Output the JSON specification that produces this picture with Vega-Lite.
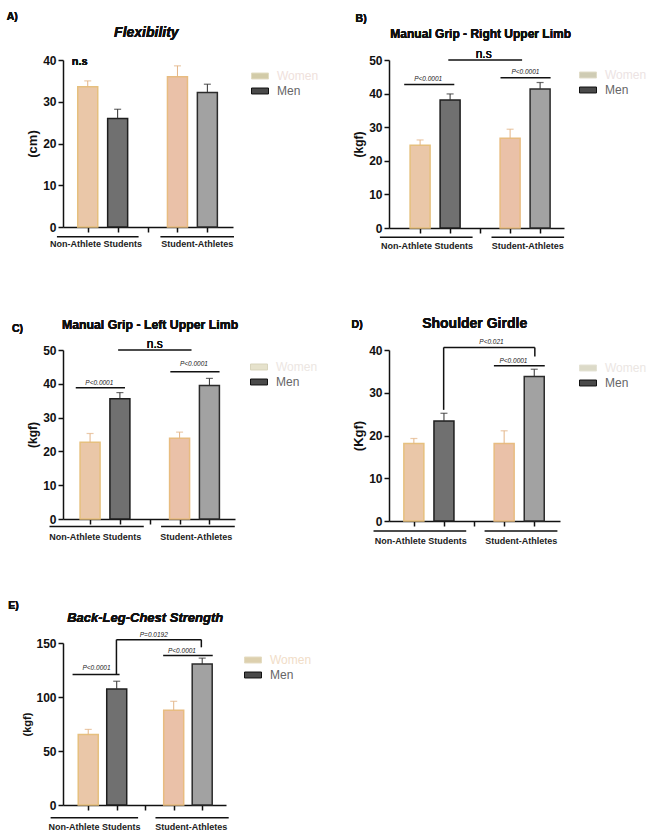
{
  "$schema": "https://vega.github.io/schema/vega-lite/v6.json",
  "padding": {"left": 6, "top": 11, "right": 0, "bottom": 0},
  "background": "white",
  "columns": 2,
  "bounds": "flush",
  "spacing": {"column": 154, "row": 122},
  "resolve": {"scale": {"x": "independent", "y": "independent", "fill": "independent"}, "legend": {"fill": "independent"}},
  "config": {
    "view": {"stroke": null},
    "text": {"font": "Liberation Sans"},
    "axis": {"domainColor": "#111", "domainWidth": 1.5, "tickColor": "#111", "tickWidth": 1.5, "tickSize": 5, "grid": false, "tickCount": 20,
      "labelFont": "Liberation Sans", "labelFontWeight": "bold", "labelFontSize": 12, "labelColor": "#111", "labelPadding": 2, "labelFlush": false, "labelOverlap": false,
      "titleFont": "Liberation Sans", "titleFontWeight": "bold", "titleFontSize": 12, "titleColor": "#111", "titlePadding": 3},
    "legend": {"labelFont": "Liberation Sans", "labelFontSize": 12, "labelOffset": 8, "rowPadding": -1, "symbolSize": 289, "symbolStrokeWidth": 1,
      "symbolType": "M-1,-0.35H1V0.35H-1Z"}
  },
  "concat": [
    {
      "width": 170, "height": 167,
      "data": {"values": [
        {"group": "Non-Athlete Students", "sex": "Women", "key": "Women NA", "pos": 1, "mean": 33.6, "err": 35.0},
        {"group": "Non-Athlete Students", "sex": "Men", "key": "Men NA", "pos": 2, "mean": 26.0, "err": 28.2},
        {"group": "Student-Athletes", "sex": "Women", "key": "Women SA", "pos": 4, "mean": 36.0, "err": 38.6},
        {"group": "Student-Athletes", "sex": "Men", "key": "Men SA", "pos": 5, "mean": 32.2, "err": 34.2}
      ]},
      "layer": [
        {"mark": {"type": "bar", "size": 20, "strokeWidth": 1.5},
         "encoding": {
          "x": {"field": "pos", "type": "quantitative", "scale": {"domain": [0.34, 5.69], "nice": false, "zero": false}, "axis": {"values": [1, 2, 3, 4, 5], "tickCount": 20, "labels": false, "title": null}},
          "y": {"field": "mean", "type": "quantitative", "scale": {"domain": [0, 40], "nice": false}, "axis": {"values": [0, 10, 20, 30, 40], "tickCount": 20, "labelOverlap": false, "title": "(cm)", "titleFontSize": 13}},
          "fill": {"field": "key", "type": "nominal", "scale": {"domain": ["Women", "Men", "Women NA", "Men NA", "Women SA", "Men SA"], "range": ["#d2cba8", "#4a4a4a", "#eac7a8", "#707070", "#eac1a8", "#a2a2a2"]},
            "legend": {"title": null, "orient": "none", "legendX": 188, "legendY": 7, "values": ["Women", "Men"],
              "encode": {"labels": {"update": {"fill": {"signal": "datum.value === 'Women' ? '#efe1dc' : '#666666'"}}},
                         "symbols": {"update": {"stroke": {"signal": "datum.value === 'Women' ? '#e2dcc2' : '#111111'"}}}}}},
          "stroke": {"field": "key", "type": "nominal", "scale": {"domain": ["Women NA", "Men NA", "Women SA", "Men SA"], "range": ["#e6c07e", "#1e1e1e", "#e8bc80", "#2b2b2b"]}, "legend": null}
         }},
        {"mark": {"type": "rule", "strokeWidth": 1},
         "encoding": {"x": {"field": "pos", "type": "quantitative"}, "y": {"field": "mean", "type": "quantitative"}, "y2": {"field": "err"},
          "color": {"field": "sex", "type": "nominal", "scale": {"domain": ["Women", "Men"], "range": ["#e3b486", "#2e2e2e"]}, "legend": null}}},
        {"mark": {"type": "tick", "orient": "horizontal", "size": 7, "thickness": 1.2},
         "encoding": {"x": {"field": "pos", "type": "quantitative"}, "y": {"field": "err", "type": "quantitative"},
          "color": {"field": "sex", "type": "nominal", "scale": {"domain": ["Women", "Men"], "range": ["#e3b486", "#2e2e2e"]}, "legend": null}}},
        {"mark": {"type": "text", "fontSize": 11, "fontWeight": "bold", "baseline": "middle", "color": "#111"},
         "encoding": {"x": {"datum": 0.73, "type": "quantitative"}, "y": {"datum": 39.5, "type": "quantitative"}, "text": {"value": "n.s"}}},
        {"data": {"values": [{"group": "Non-Athlete Students", "x1": -0.03, "x2": 2.70, "y": -2.35}, {"group": "Student-Athletes", "x1": 3.43, "x2": 5.89, "y": -2.35}]},
         "mark": {"type": "rule", "strokeWidth": 1.5, "color": "#111"},
         "encoding": {"x": {"field": "x1", "type": "quantitative"}, "x2": {"field": "x2"}, "y": {"field": "y", "type": "quantitative"}}},
        {"data": {"values": [{"label": "Non-Athlete Students", "x": 1.28, "y": -4.14}, {"label": "Student-Athletes", "x": 4.66, "y": -4.14}]},
         "mark": {"type": "text", "fontSize": 9, "fontWeight": "bold", "baseline": "middle", "color": "#222"},
         "encoding": {"x": {"field": "x", "type": "quantitative"}, "y": {"field": "y", "type": "quantitative"}, "text": {"field": "label"}}},
        {"mark": {"type": "text", "fontSize": 14, "fontWeight": "bold", "fontStyle": "italic", "baseline": "alphabetic", "color": "#111"},
         "encoding": {"x": {"datum": 2.96, "type": "quantitative"}, "y": {"datum": 45.5, "type": "quantitative"}, "text": {"value": "Flexibility"}}},
        {"mark": {"type": "text", "fontSize": 10.5, "fontWeight": "bold", "align": "left", "baseline": "alphabetic", "color": "#111"},
         "encoding": {"x": {"datum": -1.71, "type": "quantitative"}, "y": {"datum": 49.7, "type": "quantitative"}, "text": {"value": "A)"}}}
      ]
    },
    {
      "width": 175, "height": 168,
      "data": {"values": [
        {"group": "Non-Athlete Students", "sex": "Women", "key": "Women NA", "pos": 1, "mean": 24.6, "err": 26.2},
        {"group": "Non-Athlete Students", "sex": "Men", "key": "Men NA", "pos": 2, "mean": 38.1, "err": 39.9},
        {"group": "Student-Athletes", "sex": "Women", "key": "Women SA", "pos": 4, "mean": 26.7, "err": 29.4},
        {"group": "Student-Athletes", "sex": "Men", "key": "Men SA", "pos": 5, "mean": 41.4, "err": 43.3}
      ]},
      "layer": [
        {"mark": {"type": "bar", "size": 20, "strokeWidth": 1.5},
         "encoding": {
          "x": {"field": "pos", "type": "quantitative", "scale": {"domain": [0.13, 5.63], "nice": false, "zero": false}, "axis": {"values": [1, 2, 3, 4, 5], "tickCount": 20, "labels": false, "title": null}},
          "y": {"field": "mean", "type": "quantitative", "scale": {"domain": [0, 50], "nice": false}, "axis": {"values": [0, 10, 20, 30, 40, 50], "tickCount": 20, "labelOverlap": false, "title": "(kgf)"}},
          "fill": {"field": "key", "type": "nominal", "scale": {"domain": ["Women", "Men", "Women NA", "Men NA", "Women SA", "Men SA"], "range": ["#cfccb4", "#4a4a4a", "#eac7a8", "#707070", "#eac1a8", "#a2a2a2"]},
            "legend": {"title": null, "orient": "none", "legendX": 190, "legendY": 6, "values": ["Women", "Men"],
              "encode": {"labels": {"update": {"fill": {"signal": "datum.value === 'Women' ? '#ece3e3' : '#666666'"}}},
                         "symbols": {"update": {"stroke": {"signal": "datum.value === 'Women' ? '#e0dcc8' : '#111111'"}}}}}},
          "stroke": {"field": "key", "type": "nominal", "scale": {"domain": ["Women NA", "Men NA", "Women SA", "Men SA"], "range": ["#e6c07e", "#1e1e1e", "#e8bc80", "#2b2b2b"]}, "legend": null}
         }},
        {"mark": {"type": "rule", "strokeWidth": 1},
         "encoding": {"x": {"field": "pos", "type": "quantitative"}, "y": {"field": "mean", "type": "quantitative"}, "y2": {"field": "err"},
          "color": {"field": "sex", "type": "nominal", "scale": {"domain": ["Women", "Men"], "range": ["#e3b486", "#2e2e2e"]}, "legend": null}}},
        {"mark": {"type": "tick", "orient": "horizontal", "size": 7, "thickness": 1.2},
         "encoding": {"x": {"field": "pos", "type": "quantitative"}, "y": {"field": "err", "type": "quantitative"},
          "color": {"field": "sex", "type": "nominal", "scale": {"domain": ["Women", "Men"], "range": ["#e3b486", "#2e2e2e"]}, "legend": null}}},
        {"data": {"values": [{"comparison": "NA women vs men", "x1": 0.47, "x2": 2.14, "y": 42.7}, {"comparison": "NA vs SA men", "x1": 1.94, "x2": 4.40, "y": 50.0}, {"comparison": "SA women vs men", "x1": 3.68, "x2": 5.35, "y": 44.75}]},
         "mark": {"type": "rule", "strokeWidth": 1.5, "color": "#111"},
         "encoding": {"x": {"field": "x1", "type": "quantitative"}, "x2": {"field": "x2"}, "y": {"field": "y", "type": "quantitative"}}},
        {"data": {"values": [{"label": "P<0.0001", "x": 1.27, "y": 44.4}, {"label": "P<0.0001", "x": 4.51, "y": 46.4}]},
         "mark": {"type": "text", "fontSize": 6.5, "fontStyle": "italic", "baseline": "middle", "color": "#222"},
         "encoding": {"x": {"field": "x", "type": "quantitative"}, "y": {"field": "y", "type": "quantitative"}, "text": {"field": "label"}}},
        {"mark": {"type": "text", "fontSize": 12, "baseline": "middle", "color": "#111"},
         "encoding": {"x": {"datum": 3.12, "type": "quantitative"}, "y": {"datum": 51.7, "type": "quantitative"}, "text": {"value": "n.s"}}},
        {"data": {"values": [{"group": "Non-Athlete Students", "x1": -0.34, "x2": 2.75, "y": -2.76}, {"group": "Student-Athletes", "x1": 3.38, "x2": 5.80, "y": -2.76}]},
         "mark": {"type": "rule", "strokeWidth": 1.5, "color": "#111"},
         "encoding": {"x": {"field": "x1", "type": "quantitative"}, "x2": {"field": "x2"}, "y": {"field": "y", "type": "quantitative"}}},
        {"data": {"values": [{"label": "Non-Athlete Students", "x": 1.23, "y": -5.4}, {"label": "Student-Athletes", "x": 4.59, "y": -5.4}]},
         "mark": {"type": "text", "fontSize": 9, "fontWeight": "bold", "baseline": "middle", "color": "#222"},
         "encoding": {"x": {"field": "x", "type": "quantitative"}, "y": {"field": "y", "type": "quantitative"}, "text": {"field": "label"}}},
        {"mark": {"type": "text", "fontSize": 12, "fontWeight": "bold", "baseline": "alphabetic", "color": "#111"},
         "encoding": {"x": {"datum": 3.02, "type": "quantitative"}, "y": {"datum": 56.6, "type": "quantitative"}, "text": {"value": "Manual Grip - Right Upper Limb"}}},
        {"mark": {"type": "text", "fontSize": 10.5, "fontWeight": "bold", "align": "left", "baseline": "alphabetic", "color": "#111"},
         "encoding": {"x": {"datum": -1.15, "type": "quantitative"}, "y": {"datum": 61.4, "type": "quantitative"}, "text": {"value": "B)"}}}
      ]
    },
    {
      "width": 172, "height": 169,
      "data": {"values": [
        {"group": "Non-Athlete Students", "sex": "Women", "key": "Women NA", "pos": 1, "mean": 22.7, "err": 25.3},
        {"group": "Non-Athlete Students", "sex": "Men", "key": "Men NA", "pos": 2, "mean": 35.6, "err": 37.4},
        {"group": "Student-Athletes", "sex": "Women", "key": "Women SA", "pos": 4, "mean": 23.9, "err": 25.7},
        {"group": "Student-Athletes", "sex": "Men", "key": "Men SA", "pos": 5, "mean": 39.5, "err": 41.6}
      ]},
      "layer": [
        {"mark": {"type": "bar", "size": 20, "strokeWidth": 1.5},
         "encoding": {
          "x": {"field": "pos", "type": "quantitative", "scale": {"domain": [0.26, 5.69], "nice": false, "zero": false}, "axis": {"values": [1, 2, 3, 4, 5], "tickCount": 20, "labels": false, "title": null}},
          "y": {"field": "mean", "type": "quantitative", "scale": {"domain": [0, 50], "nice": false}, "axis": {"values": [0, 10, 20, 30, 40, 50], "tickCount": 20, "labelOverlap": false, "title": "(kgf)"}},
          "fill": {"field": "key", "type": "nominal", "scale": {"domain": ["Women", "Men", "Women NA", "Men NA", "Women SA", "Men SA"], "range": ["#e6e2cc", "#4a4a4a", "#eac7a8", "#707070", "#eac1a8", "#a2a2a2"]},
            "legend": {"title": null, "orient": "none", "legendX": 187, "legendY": 8, "values": ["Women", "Men"],
              "encode": {"labels": {"update": {"fill": {"signal": "datum.value === 'Women' ? '#ece6e2' : '#666666'"}}},
                         "symbols": {"update": {"stroke": {"signal": "datum.value === 'Women' ? '#d8d4bc' : '#111111'"}}}}}},
          "stroke": {"field": "key", "type": "nominal", "scale": {"domain": ["Women NA", "Men NA", "Women SA", "Men SA"], "range": ["#e6c07e", "#1e1e1e", "#e8bc80", "#2b2b2b"]}, "legend": null}
         }},
        {"mark": {"type": "rule", "strokeWidth": 1},
         "encoding": {"x": {"field": "pos", "type": "quantitative"}, "y": {"field": "mean", "type": "quantitative"}, "y2": {"field": "err"},
          "color": {"field": "sex", "type": "nominal", "scale": {"domain": ["Women", "Men"], "range": ["#e3b486", "#2e2e2e"]}, "legend": null}}},
        {"mark": {"type": "tick", "orient": "horizontal", "size": 7, "thickness": 1.2},
         "encoding": {"x": {"field": "pos", "type": "quantitative"}, "y": {"field": "err", "type": "quantitative"},
          "color": {"field": "sex", "type": "nominal", "scale": {"domain": ["Women", "Men"], "range": ["#e3b486", "#2e2e2e"]}, "legend": null}}},
        {"data": {"values": [{"comparison": "NA women vs men", "x1": 0.52, "x2": 2.17, "y": 38.8}, {"comparison": "NA vs SA men", "x1": 1.94, "x2": 4.40, "y": 50.0}, {"comparison": "SA women vs men", "x1": 3.69, "x2": 5.34, "y": 43.6}]},
         "mark": {"type": "rule", "strokeWidth": 1.5, "color": "#111"},
         "encoding": {"x": {"field": "x1", "type": "quantitative"}, "x2": {"field": "x2"}, "y": {"field": "y", "type": "quantitative"}}},
        {"data": {"values": [{"label": "P<0.0001", "x": 1.31, "y": 40.3}, {"label": "P<0.0001", "x": 4.48, "y": 46.0}]},
         "mark": {"type": "text", "fontSize": 6.5, "fontStyle": "italic", "baseline": "middle", "color": "#222"},
         "encoding": {"x": {"field": "x", "type": "quantitative"}, "y": {"field": "y", "type": "quantitative"}, "text": {"field": "label"}}},
        {"mark": {"type": "text", "fontSize": 12, "baseline": "middle", "color": "#111"},
         "encoding": {"x": {"datum": 3.17, "type": "quantitative"}, "y": {"datum": 51.7, "type": "quantitative"}, "text": {"value": "n.s"}}},
        {"data": {"values": [{"group": "Non-Athlete Students", "x1": -0.36, "x2": 2.80, "y": -2.19}, {"group": "Student-Athletes", "x1": 3.38, "x2": 5.85, "y": -2.19}]},
         "mark": {"type": "rule", "strokeWidth": 1.5, "color": "#111"},
         "encoding": {"x": {"field": "x1", "type": "quantitative"}, "x2": {"field": "x2"}, "y": {"field": "y", "type": "quantitative"}}},
        {"data": {"values": [{"label": "Non-Athlete Students", "x": 1.17, "y": -5.45}, {"label": "Student-Athletes", "x": 4.56, "y": -5.45}]},
         "mark": {"type": "text", "fontSize": 9, "fontWeight": "bold", "baseline": "middle", "color": "#222"},
         "encoding": {"x": {"field": "x", "type": "quantitative"}, "y": {"field": "y", "type": "quantitative"}, "text": {"field": "label"}}},
        {"mark": {"type": "text", "fontSize": 12.3, "fontWeight": "bold", "baseline": "alphabetic", "color": "#111"},
         "encoding": {"x": {"datum": 3.01, "type": "quantitative"}, "y": {"datum": 56.3, "type": "quantitative"}, "text": {"value": "Manual Grip - Left Upper Limb"}}},
        {"mark": {"type": "text", "fontSize": 10.5, "fontWeight": "bold", "align": "left", "baseline": "alphabetic", "color": "#111"},
         "encoding": {"x": {"datum": -1.62, "type": "quantitative"}, "y": {"datum": 55.3, "type": "quantitative"}, "text": {"value": "C)"}}}
      ]
    },
    {
      "width": 171, "height": 171,
      "data": {"values": [
        {"group": "Non-Athlete Students", "sex": "Women", "key": "Women NA", "pos": 1, "mean": 18.1, "err": 19.3},
        {"group": "Non-Athlete Students", "sex": "Men", "key": "Men NA", "pos": 2, "mean": 23.4, "err": 25.2},
        {"group": "Student-Athletes", "sex": "Women", "key": "Women SA", "pos": 4, "mean": 18.1, "err": 21.1},
        {"group": "Student-Athletes", "sex": "Men", "key": "Men SA", "pos": 5, "mean": 33.8, "err": 35.5}
      ]},
      "layer": [
        {"mark": {"type": "bar", "size": 20, "strokeWidth": 1.5},
         "encoding": {
          "x": {"field": "pos", "type": "quantitative", "scale": {"domain": [0.34, 5.69], "nice": false, "zero": false}, "axis": {"values": [1, 2, 3, 4, 5], "tickCount": 20, "labels": false, "title": null}},
          "y": {"field": "mean", "type": "quantitative", "scale": {"domain": [0, 40], "nice": false}, "axis": {"values": [0, 10, 20, 30, 40], "tickCount": 20, "labelOverlap": false, "title": "(Kgf)", "titleFontSize": 13}},
          "fill": {"field": "key", "type": "nominal", "scale": {"domain": ["Women", "Men", "Women NA", "Men NA", "Women SA", "Men SA"], "range": ["#dcdac8", "#4a4a4a", "#eac7a8", "#707070", "#eac1a8", "#a2a2a2"]},
            "legend": {"title": null, "orient": "none", "legendX": 190, "legendY": 9, "values": ["Women", "Men"],
              "encode": {"labels": {"update": {"fill": {"signal": "datum.value === 'Women' ? '#ebe6e3' : '#666666'"}}},
                         "symbols": {"update": {"stroke": {"signal": "datum.value === 'Women' ? '#e4e2d4' : '#111111'"}}}}}},
          "stroke": {"field": "key", "type": "nominal", "scale": {"domain": ["Women NA", "Men NA", "Women SA", "Men SA"], "range": ["#e6c07e", "#1e1e1e", "#e8bc80", "#2b2b2b"]}, "legend": null}
         }},
        {"mark": {"type": "rule", "strokeWidth": 1},
         "encoding": {"x": {"field": "pos", "type": "quantitative"}, "y": {"field": "mean", "type": "quantitative"}, "y2": {"field": "err"},
          "color": {"field": "sex", "type": "nominal", "scale": {"domain": ["Women", "Men"], "range": ["#e3b486", "#2e2e2e"]}, "legend": null}}},
        {"mark": {"type": "tick", "orient": "horizontal", "size": 7, "thickness": 1.2},
         "encoding": {"x": {"field": "pos", "type": "quantitative"}, "y": {"field": "err", "type": "quantitative"},
          "color": {"field": "sex", "type": "nominal", "scale": {"domain": ["Women", "Men"], "range": ["#e3b486", "#2e2e2e"]}, "legend": null}}},
        {"data": {"values": [{"comparison": "NA vs SA men", "x1": 1.99, "x2": 5.02, "y": 40.6}, {"comparison": "SA women vs men", "x1": 3.66, "x2": 5.35, "y": 36.3}]},
         "mark": {"type": "rule", "strokeWidth": 1.5, "color": "#111"},
         "encoding": {"x": {"field": "x1", "type": "quantitative"}, "x2": {"field": "x2"}, "y": {"field": "y", "type": "quantitative"}}},
        {"data": {"values": [{"comparison": "NA vs SA men", "x": 1.99, "y1": 40.6, "y2": 26.0}, {"comparison": "NA vs SA men", "x": 5.02, "y1": 40.6, "y2": 38.5}]},
         "mark": {"type": "rule", "strokeWidth": 1.5, "color": "#111"},
         "encoding": {"x": {"field": "x", "type": "quantitative"}, "y": {"field": "y1", "type": "quantitative"}, "y2": {"field": "y2"}}},
        {"data": {"values": [{"label": "P<0.021", "x": 3.58, "y": 41.8}, {"label": "P<0.0001", "x": 4.31, "y": 37.4}]},
         "mark": {"type": "text", "fontSize": 6.5, "fontStyle": "italic", "baseline": "middle", "color": "#222"},
         "encoding": {"x": {"field": "x", "type": "quantitative"}, "y": {"field": "y", "type": "quantitative"}, "text": {"field": "label"}}},
        {"data": {"values": [{"group": "Non-Athlete Students", "x1": -0.34, "x2": 2.74, "y": -2.34}, {"group": "Student-Athletes", "x1": 3.35, "x2": 5.77, "y": -2.34}]},
         "mark": {"type": "rule", "strokeWidth": 1.5, "color": "#111"},
         "encoding": {"x": {"field": "x1", "type": "quantitative"}, "x2": {"field": "x2"}, "y": {"field": "y", "type": "quantitative"}}},
        {"data": {"values": [{"label": "Non-Athlete Students", "x": 1.23, "y": -4.68}, {"label": "Student-Athletes", "x": 4.57, "y": -4.68}]},
         "mark": {"type": "text", "fontSize": 9, "fontWeight": "bold", "baseline": "middle", "color": "#222"},
         "encoding": {"x": {"field": "x", "type": "quantitative"}, "y": {"field": "y", "type": "quantitative"}, "text": {"field": "label"}}},
        {"mark": {"type": "text", "fontSize": 14, "fontWeight": "bold", "baseline": "alphabetic", "color": "#111"},
         "encoding": {"x": {"datum": 3.02, "type": "quantitative"}, "y": {"datum": 45.1, "type": "quantitative"}, "text": {"value": "Shoulder Girdle"}}},
        {"mark": {"type": "text", "fontSize": 10.5, "fontWeight": "bold", "align": "left", "baseline": "alphabetic", "color": "#111"},
         "encoding": {"x": {"datum": -1.07, "type": "quantitative"}, "y": {"datum": 45.1, "type": "quantitative"}, "text": {"value": "D)"}}}
      ]
    },
    {
      "width": 163, "height": 162,
      "data": {"values": [
        {"group": "Non-Athlete Students", "sex": "Women", "key": "Women NA", "pos": 1, "mean": 65.3, "err": 70.0},
        {"group": "Non-Athlete Students", "sex": "Men", "key": "Men NA", "pos": 2, "mean": 107.5, "err": 114.6},
        {"group": "Student-Athletes", "sex": "Women", "key": "Women SA", "pos": 4, "mean": 87.8, "err": 96.0},
        {"group": "Student-Athletes", "sex": "Men", "key": "Men SA", "pos": 5, "mean": 130.6, "err": 136.0}
      ]},
      "layer": [
        {"mark": {"type": "bar", "size": 20, "strokeWidth": 1.5},
         "encoding": {
          "x": {"field": "pos", "type": "quantitative", "scale": {"domain": [0.29, 5.66], "nice": false, "zero": false}, "axis": {"values": [1, 2, 3, 4, 5], "tickCount": 20, "labels": false, "title": null}},
          "y": {"field": "mean", "type": "quantitative", "scale": {"domain": [0, 150], "nice": false}, "axis": {"values": [0, 50, 100, 150], "tickCount": 20, "labelOverlap": false, "title": "(kgf)", "titleFontSize": 11}},
          "fill": {"field": "key", "type": "nominal", "scale": {"domain": ["Women", "Men", "Women NA", "Men NA", "Women SA", "Men SA"], "range": ["#ddd0ae", "#4a4a4a", "#eac7a8", "#707070", "#eac1a8", "#a2a2a2"]},
            "legend": {"title": null, "orient": "none", "legendX": 181, "legendY": 8, "values": ["Women", "Men"],
              "encode": {"labels": {"update": {"fill": {"signal": "datum.value === 'Women' ? '#f1ddc8' : '#666666'"}}},
                         "symbols": {"update": {"stroke": {"signal": "datum.value === 'Women' ? '#e4dcc2' : '#111111'"}}}}}},
          "stroke": {"field": "key", "type": "nominal", "scale": {"domain": ["Women NA", "Men NA", "Women SA", "Men SA"], "range": ["#e6c07e", "#1e1e1e", "#e8bc80", "#2b2b2b"]}, "legend": null}
         }},
        {"mark": {"type": "rule", "strokeWidth": 1},
         "encoding": {"x": {"field": "pos", "type": "quantitative"}, "y": {"field": "mean", "type": "quantitative"}, "y2": {"field": "err"},
          "color": {"field": "sex", "type": "nominal", "scale": {"domain": ["Women", "Men"], "range": ["#e3b486", "#2e2e2e"]}, "legend": null}}},
        {"mark": {"type": "tick", "orient": "horizontal", "size": 7, "thickness": 1.2},
         "encoding": {"x": {"field": "pos", "type": "quantitative"}, "y": {"field": "err", "type": "quantitative"},
          "color": {"field": "sex", "type": "nominal", "scale": {"domain": ["Women", "Men"], "range": ["#e3b486", "#2e2e2e"]}, "legend": null}}},
        {"data": {"values": [{"comparison": "NA women vs men", "x1": 0.45, "x2": 2.1, "y": 120.8}, {"comparison": "NA vs SA men", "x1": 1.99, "x2": 4.97, "y": 153.1}, {"comparison": "SA women vs men", "x1": 3.63, "x2": 5.37, "y": 138.4}]},
         "mark": {"type": "rule", "strokeWidth": 1.5, "color": "#111"},
         "encoding": {"x": {"field": "x1", "type": "quantitative"}, "x2": {"field": "x2"}, "y": {"field": "y", "type": "quantitative"}}},
        {"data": {"values": [{"comparison": "NA vs SA men", "x": 1.99, "y1": 153.1, "y2": 120.8}, {"comparison": "NA vs SA men", "x": 4.97, "y1": 153.1, "y2": 146.0}]},
         "mark": {"type": "rule", "strokeWidth": 1.5, "color": "#111"},
         "encoding": {"x": {"field": "x", "type": "quantitative"}, "y": {"field": "y1", "type": "quantitative"}, "y2": {"field": "y2"}}},
        {"data": {"values": [{"label": "P<0.0001", "x": 1.29, "y": 126.9}, {"label": "P=0.0192", "x": 3.30, "y": 157.8}, {"label": "P<0.0001", "x": 4.29, "y": 142.6}]},
         "mark": {"type": "text", "fontSize": 6.5, "fontStyle": "italic", "baseline": "middle", "color": "#222"},
         "encoding": {"x": {"field": "x", "type": "quantitative"}, "y": {"field": "y", "type": "quantitative"}, "text": {"field": "label"}}},
        {"data": {"values": [{"group": "Non-Athlete Students", "x1": -0.32, "x2": 2.75, "y": -11.7}, {"group": "Student-Athletes", "x1": 3.36, "x2": 5.93, "y": -11.7}]},
         "mark": {"type": "rule", "strokeWidth": 1.5, "color": "#111"},
         "encoding": {"x": {"field": "x1", "type": "quantitative"}, "x2": {"field": "x2"}, "y": {"field": "y", "type": "quantitative"}}},
        {"data": {"values": [{"label": "Non-Athlete Students", "x": 1.22, "y": -20.0}, {"label": "Student-Athletes", "x": 4.62, "y": -20.0}]},
         "mark": {"type": "text", "fontSize": 9, "fontWeight": "bold", "baseline": "middle", "color": "#222"},
         "encoding": {"x": {"field": "x", "type": "quantitative"}, "y": {"field": "y", "type": "quantitative"}, "text": {"field": "label"}}},
        {"mark": {"type": "text", "fontSize": 13, "fontWeight": "bold", "fontStyle": "italic", "baseline": "alphabetic", "color": "#111"},
         "encoding": {"x": {"datum": 3.0, "type": "quantitative"}, "y": {"datum": 169.4, "type": "quantitative"}, "text": {"value": "Back-Leg-Chest Strength"}}},
        {"mark": {"type": "text", "fontSize": 10.5, "fontWeight": "bold", "align": "left", "baseline": "alphabetic", "color": "#111"},
         "encoding": {"x": {"datum": -1.81, "type": "quantitative"}, "y": {"datum": 181.8, "type": "quantitative"}, "text": {"value": "E)"}}}
      ]
    }
  ]
}
